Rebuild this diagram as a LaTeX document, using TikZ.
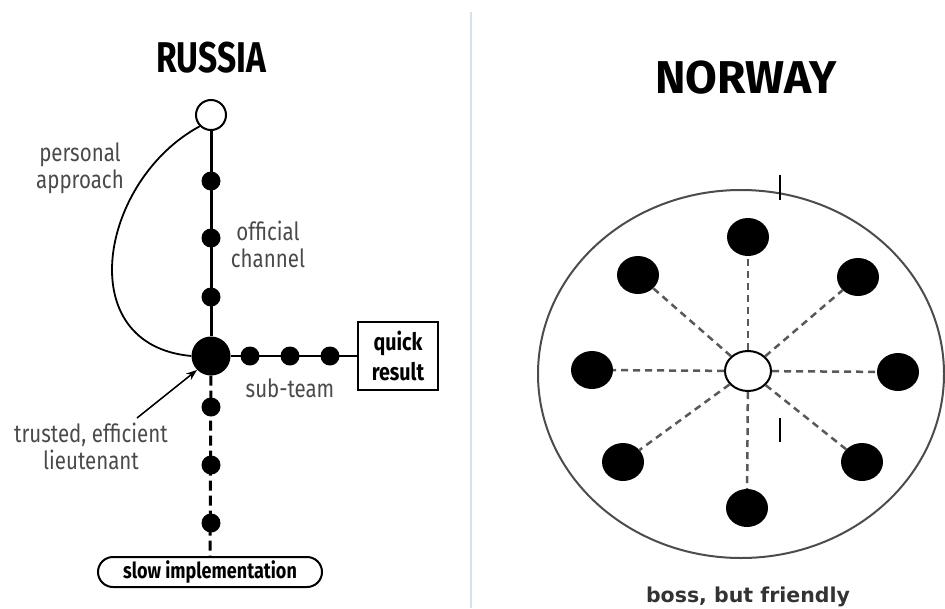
\documentclass[tikz,border=0pt]{standalone}
\usepackage{fontspec}
\setmainfont{Fira Sans}
\newfontfamily\labelfont[FakeStretch=0.82]{Fira Sans}
\newfontfamily\titlefont[FakeStretch=0.78]{Fira Sans}
\newfontfamily\verdfont{DejaVu Sans}
\usetikzlibrary{arrows.meta, shapes.geometric}
\definecolor{sepblue}{HTML}{D2E1F7}
\definecolor{labelgray}{HTML}{4A4A4A}
\tikzset{
    dot/.style={circle, fill, inner sep=0pt, minimum size=19pt}, % small member
    bigdot/.style={circle, fill, inner sep=0pt, minimum size=39pt}, % lieutenant
    opendot/.style={circle, draw, line width=2pt, fill=white, inner sep=0pt, minimum size=30pt}, % boss
    blob/.style={ellipse, fill, inner sep=0pt, minimum width=42pt, minimum height=38pt}, % team member
    spoke/.style={draw=black!65, line width=2.5pt, dash pattern=on 7pt off 5pt}, % dashed link
    note/.style={text=labelgray, align=center, font=\labelfont\fontsize{25}{27}\selectfont}, % grey labels
    boxtext/.style={align=center, font=\labelfont\bfseries\fontsize{24}{30}\selectfont} % framed labels
}

\begin{document}
\begin{tikzpicture}[x=1pt, y=-1pt]
    \useasboundingbox (0,0) rectangle (945,608);
    \draw[sepblue, line width=2.5pt] (471,12) -- (471,608);

    % Russia
    \node[anchor=base, font=\titlefont\bfseries\fontsize{43}{48}\selectfont] (rutitle) at (211,72) {RUSSIA};
    \node[opendot] (top) at (211,115) {};
    \node[bigdot] (lt) at (211,356) {};
    \foreach \y [count=\i] in {181,238,297} {\node[dot] (oc\i) at (211,\y) {};}
    \foreach \x [count=\i] in {250,290,330} {\node[dot] (st\i) at (\x,356) {};}
    \foreach \y [count=\i] in {407,465,523} {\node[dot] (si\i) at (211,\y) {};}
    \node[draw, line width=2pt, boxtext, minimum width=80pt, minimum height=68pt, inner sep=2pt] (quick) at (398,356) {quick\\result};
    \node[draw, line width=2pt, rounded corners=15pt, minimum width=224pt, minimum height=30pt, inner sep=2pt,
          font=\labelfont\bfseries\fontsize{22}{24}\selectfont] (slow) at (210,572) {slow implementation};

    \draw[line width=3pt] (top) -- (lt);
    \draw[line width=2.5pt] (lt) -- (quick);
    \draw[line width=3pt, dash pattern=on 10pt off 5pt] (lt) -- (slow);
    \draw[line width=1.8pt] (top.south west) .. controls (100,180) and (70,345) .. (lt.west);

    \node[note] (personal) at (80,168) {personal\\approach};
    \node[note] (official) at (268,244) {official\\channel};
    \node[note, anchor=base] (subteam) at (290,397) {sub-team};
    \node[note] (trust) at (91,446) {trusted, efficient\\lieutenant};
    \coordinate (trusttip) at (137,418);
    \draw[line width=1.5pt, -{Stealth[length=11pt, width=8pt]}] (trusttip) -- (lt.south west);

    % Norway
    \node[anchor=base, font=\bfseries\fontsize{46}{50}\selectfont] (notitle) at (746,93) {NORWAY};
    \node[ellipse, draw=black!70, line width=2pt, inner sep=0pt, minimum width=406pt, minimum height=368pt] (rim) at (741,374) {};
    \node[ellipse, draw, line width=2pt, fill=white, inner sep=0pt, minimum width=46pt, minimum height=40pt] (boss) at (748,371) {};
    \foreach \name/\x/\y in {n/748/237, ne/858/277, e/898/372, se/862/462, s/747/508, sw/623/462, w/592/370, nw/638/275} {
        \node[blob] (\name) at (\x,\y) {};
        \draw[spoke] (boss) -- (\name);
    }
    \draw[line width=1.5pt] (780,175) -- (780,200);
    \draw[line width=1.5pt] (780,418) -- (780,442);
    \node[anchor=base, text=black!80, font=\verdfont\bfseries\fontsize{20.5}{24}\selectfont] (friendly) at (748,602) {boss, but friendly};
\end{tikzpicture}
\end{document}
